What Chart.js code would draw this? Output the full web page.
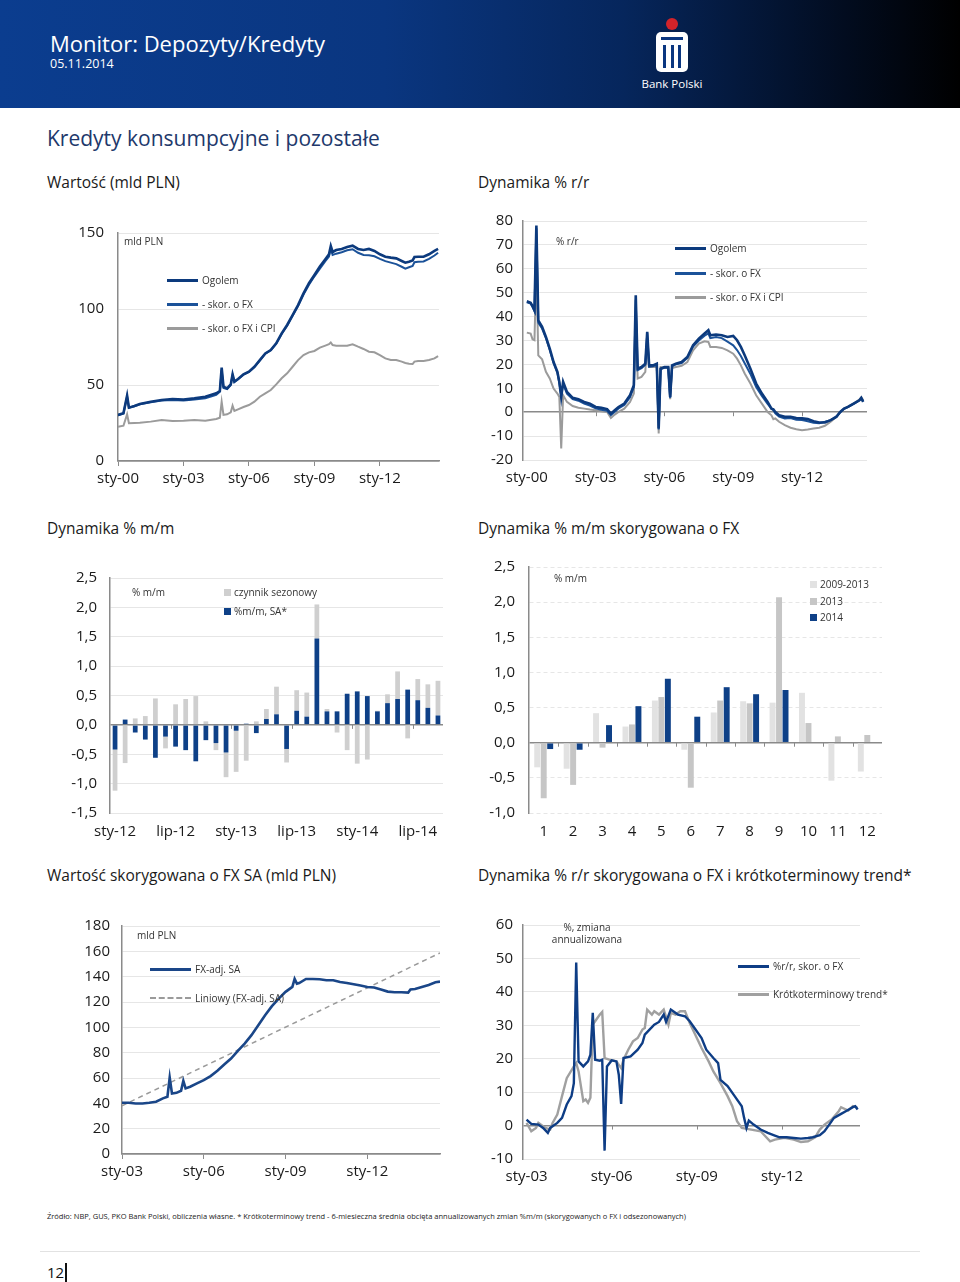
<!DOCTYPE html>
<html lang="pl">
<head>
<meta charset="utf-8">
<title>Kredyty konsumpcyjne i pozostałe</title>
<script src="https://cdn.jsdelivr.net/npm/chart.js@4.4.1/dist/chart.umd.min.js"></script>
<style>
  html, body { margin: 0; padding: 0; background: #fff; }
  body { width: 960px; height: 1282px; position: relative; overflow: hidden; font-family: "Open Sans", sans-serif; color: #1a1a1a; }
  .abs { position: absolute; }
  .hdr { left: 0; top: 0; width: 960px; height: 108px; background: linear-gradient(90deg, #0b3d8f 0%, #0a3680 40%, #06265c 65%, #020c1f 88%, #000 100%); }
  .hdr-title { left: 50px; top: 28px; font-size: 22px; color: #fff; }
  .hdr-date { left: 50px; top: 55px; font-size: 12.5px; color: #fff; }
  .bank { left: 632px; top: 76px; width: 80px; text-align: center; font-size: 11.5px; color: #fff; }
  .section { left: 47px; top: 124px; font-size: 21px; color: #21386b; }
  .sub { font-size: 15.5px; color: #1a1a1a; white-space: nowrap; }
  .note { font-size: 10px; color: #333; white-space: nowrap; }
  .lg { position: absolute; font-size: 10px; line-height: 12px; display: flex; align-items: center; white-space: nowrap; color: #333; }
  .lg i { display: inline-block; width: 31px; margin-right: 4px; }
  .lg b { display: inline-block; width: 7px; height: 7px; margin-right: 3px; }
  canvas { position: absolute; }
  .foot { left: 47px; top: 1211px; font-size: 7.5px; color: #222; white-space: nowrap; }
  .rule { left: 40px; top: 1251px; width: 880px; height: 1px; background: #e2e2e2; }
  .page { left: 47px; top: 1262px; font-size: 15px; color: #111; }
  .bar { left: 65px; top: 1263px; width: 2px; height: 19px; background: #111; }
</style>
</head>
<body>
<div class="abs hdr"></div>
<div class="abs hdr-title">Monitor: Depozyty/Kredyty</div>
<div class="abs hdr-date">05.11.2014</div>
<svg class="abs" style="left:650px;top:14px" width="44" height="60" viewBox="0 0 44 60">
  <circle cx="22" cy="10" r="6" fill="#d2232a"/>
  <rect x="6" y="18" width="32" height="40" rx="5" fill="#fff"/>
  <rect x="11" y="23" width="22" height="3" fill="#0a3680"/>
  <rect x="13" y="31" width="3" height="23" fill="#0a3680"/>
  <rect x="21" y="31" width="3" height="23" fill="#0a3680"/>
  <rect x="28" y="31" width="3" height="23" fill="#0a3680"/>
</svg>
<div class="abs bank">Bank Polski</div>

<div class="abs section">Kredyty konsumpcyjne i pozostałe</div>

<div class="abs sub" style="left:47px;top:171px">Wartość (mld PLN)</div>
<div class="abs sub" style="left:478px;top:171px">Dynamika % r/r</div>
<div class="abs sub" style="left:47px;top:517px">Dynamika % m/m</div>
<div class="abs sub" style="left:478px;top:517px">Dynamika % m/m skorygowana o FX</div>
<div class="abs sub" style="left:47px;top:864px">Wartość skorygowana o FX SA (mld PLN)</div>
<div class="abs sub" style="left:478px;top:864px">Dynamika % r/r skorygowana o FX i krótkoterminowy trend*</div>

<canvas id="c1"></canvas>
<canvas id="c2"></canvas>
<canvas id="c3"></canvas>
<canvas id="c4"></canvas>
<canvas id="c5"></canvas>
<canvas id="c6"></canvas>

<!-- in-chart notes and legends -->
<div class="abs note" style="left:124px;top:234px">mld PLN</div>
<div class="lg" style="left:167px;top:274px"><i style="height:3px;background:#0c3a7d"></i>Ogolem</div>
<div class="lg" style="left:167px;top:298px"><i style="height:3px;background:#1b5299"></i>- skor. o FX</div>
<div class="lg" style="left:167px;top:322px"><i style="height:3px;background:#9b9b9b"></i>- skor. o FX i CPI</div>

<div class="abs note" style="left:556px;top:234px">% r/r</div>
<div class="lg" style="left:675px;top:242px"><i style="height:3px;background:#0c3a7d"></i>Ogolem</div>
<div class="lg" style="left:675px;top:267px"><i style="height:3px;background:#1b5299"></i>- skor. o FX</div>
<div class="lg" style="left:675px;top:291px"><i style="height:3px;background:#9b9b9b"></i>- skor. o FX i CPI</div>

<div class="abs note" style="left:132px;top:585px">% m/m</div>
<div class="lg" style="left:224px;top:586px"><b style="background:#cfcfcf"></b>czynnik sezonowy</div>
<div class="lg" style="left:224px;top:605px"><b style="background:#0e4087"></b>%m/m, SA*</div>

<div class="abs note" style="left:554px;top:571px">% m/m</div>
<div class="lg" style="left:810px;top:578px"><b style="background:#e2e2e2"></b>2009-2013</div>
<div class="lg" style="left:810px;top:595px"><b style="background:#c6c6c6"></b>2013</div>
<div class="lg" style="left:810px;top:611px"><b style="background:#0e4087"></b>2014</div>

<div class="abs note" style="left:137px;top:928px">mld PLN</div>
<div class="lg" style="left:150px;top:963px"><i style="width:41px;height:3px;background:#1a4688"></i>FX-adj. SA</div>
<div class="lg" style="left:150px;top:992px"><i style="width:41px;height:0;border-top:2px dashed #9a9a9a"></i>Liniowy (FX-adj. SA)</div>

<div class="abs note" style="left:537px;top:921px;width:100px;text-align:center;line-height:12px">%, zmiana<br>annualizowana</div>
<div class="lg" style="left:738px;top:960px"><i style="height:3px;background:#0e3d85"></i>%r/r, skor. o FX</div>
<div class="lg" style="left:738px;top:988px"><i style="height:3px;background:#a0a0a0"></i>Krótkoterminowy trend*</div>

<div class="abs foot">Źródło: NBP, GUS, PKO Bank Polski, obliczenia własne. * Krótkoterminowy trend - 6-miesieczna średnia obcięta annualizowanych zmian %m/m (skorygowanych o FX i odsezonowanych)</div>
<div class="abs rule"></div>
<div class="abs page">12</div>
<div class="abs bar"></div>

<script>
// ---- Wartość (mld PLN), months counted from sty-00 ----
const valMonths = [0,3,5,6,9,12,18,24,30,36,42,48,54,56,57,58,60,62,63,64,66,69,72,75,78,81,84,87,90,93,96,99,102,105,108,111,114,116,117,118,120,123,126,129,132,135,138,141,144,147,150,153,156,158,160,162,163,165,168,171,174,176];
const valTotal = [30.3,31.4,43,35.1,36.2,37.5,39,40.1,40.8,40.4,41.2,42.3,44.5,46,61.4,48.9,47.8,50.4,57,52.2,54,57,58.8,62,66.4,70.8,73,77.4,84,89.5,96,102.6,110.3,117,122.4,127.9,132.7,136,141.4,137.5,138.8,139.5,140.8,141.7,139.5,138.8,139.5,138.2,136,134.4,133.8,133.3,131.6,130.5,131.1,132,134.2,134.4,134.4,136,138.2,139.5];
const valFx = [30,31.2,42.5,35,36,37.3,38.7,39.8,40.2,39.8,40.5,41.2,43.5,45.5,60,48,47.3,50,56.5,52,53.8,56.8,58.6,61.8,66.2,70.6,72.8,77.2,83.6,89,95.5,102,109.5,116,121.5,126.5,131.5,134.5,140,135.5,136.4,137.3,138.6,139.3,137,135.5,135.3,134.7,133,131.5,130.5,129.5,127.8,126.6,127.5,128.4,130.8,131.1,131.3,133,135.2,137];
const valCpi = [22.6,23.2,30.7,24.8,25,25.2,25.9,27,26.3,26.5,27,26.5,27.6,28.5,39,30.3,30.7,32,36.4,32.9,34,35.5,36.8,39,42.3,44.5,46.7,50.4,54.4,57.7,62,66.4,69.7,71.5,72.4,74.6,75.9,76.8,78,76.3,75.9,75.8,75.9,76.8,75.2,73.7,71.9,71.5,69.7,67.5,66.4,66.4,65.4,64.5,64,63.8,65.4,65.8,65.8,66.4,67.5,69];

// ---- Dynamika % r/r ----
const yoyMonths = [0,2,3,4,5,6,8,10,12,14,16,17,18,19,21,24,27,30,33,36,39,42,44,46,48,51,54,56,57,58,60,62,63,64,66,68,69,70,72,74,75,76,78,81,84,87,90,93,95,96,99,102,105,108,110,112,114,117,120,123,126,128,129,130,132,135,138,141,144,147,150,153,156,159,162,164,166,168,171,174,175,176];
const yoyTotal = [46.4,45.8,44.4,42.6,78.1,38.4,35.7,31.5,26.6,21,16.9,12.7,6.4,12.7,8.5,6,5.4,4.3,3.6,2.2,1.8,1.3,-0.6,0.8,2.2,3.6,7.1,11.3,48.9,18.2,18.9,20.3,33.6,19.6,19.6,20.3,-6.8,18.2,18.9,18.9,6.4,19.6,20.3,21,23.1,28,30.8,32.9,34.3,32.2,32.5,32.2,31.5,31.9,30.1,27.3,23.8,18.2,12,7.8,4.3,1.5,1.2,0.1,-1.3,-1.9,-1.9,-2.4,-2.6,-2.9,-3.8,-4.3,-4.3,-3.3,-1.9,0.1,1.5,2.2,3.6,5,6,4.3];
const yoyFx = [46,45.5,44,42.3,77,37.5,35,31,26,20.5,16.5,12.2,7,11.8,7.8,5.5,4.8,3.6,2.8,1.6,1,0.6,-1.2,0.2,1.6,3,6.2,10.5,47,17.6,18.4,19.8,33,19,19.2,19.8,-7.2,18,18.6,18.6,6,19.2,20,20.6,22.7,27.5,30,32,33,31,31.5,31,29.5,28,26,23.5,20.5,16,10.5,6.8,3.5,1.5,0.8,-0.5,-1.8,-2.6,-2.4,-3.2,-3.3,-3.8,-4.4,-4.6,-4,-3.3,-2,0,1.4,2.1,3.5,4.9,5.8,4.5];
const yoyCpi = [33.3,32.9,30.5,30.1,61.4,23.8,22.1,16.9,14.1,9.9,7.8,6.4,-15.2,7.1,4.3,2.6,1.9,1.5,1.1,0.8,0.4,0.1,-2.4,-1,0.1,1.5,4.3,7.8,42.6,14.1,14.8,16.9,30.1,18.9,18.9,18.9,-8.9,18.9,18.5,18.5,5.4,18.5,18.9,19.4,21,25.9,28.7,29.7,29.4,27.3,27.3,26.9,25.9,24.5,22.4,19.6,16.2,12,7.1,3.6,0.1,-1.3,-2.9,-2.6,-4,-5.4,-6.5,-7.1,-7.5,-7.2,-6.8,-6.5,-5.7,-4,-1.9,0.1,1.5,2.2,3.6,5.3,6.3,5];

const topTickMonths = [0, 36, 72, 108, 144];
const topTickLabels = ['sty-00', 'sty-03', 'sty-06', 'sty-09', 'sty-12'];

// ---- Dynamika % m/m ----
const mmCategories = ['sty-12','lut-12','mar-12','kwi-12','maj-12','cze-12','lip-12','sie-12','wrz-12','paź-12','lis-12','gru-12',
  'sty-13','lut-13','mar-13','kwi-13','maj-13','cze-13','lip-13','sie-13','wrz-13','paź-13','lis-13','gru-13',
  'sty-14','lut-14','mar-14','kwi-14','maj-14','cze-14','lip-14','sie-14','wrz-14'];
const mmSA = [-0.42,0.09,-0.13,-0.25,-0.56,-0.20,-0.37,-0.43,-0.62,-0.26,-0.31,-0.47,-0.10,0.02,-0.14,0.10,0.18,-0.41,0.24,0.14,1.47,0.23,0.23,0.53,0.57,0.49,0.23,0.37,0.44,0.60,0.42,0.29,0.16];
const mmSeasonal = [-0.70,-0.65,0.11,0.15,0.45,-0.20,0.35,0.44,0.49,0.06,-0.12,-0.42,-0.70,-0.61,0.06,0.17,0.47,-0.23,0.35,0.41,0.58,0.04,-0.13,-0.43,-0.66,-0.59,0.01,0.15,0.47,-0.23,0.36,0.40,0.59];

// ---- Dynamika % m/m skorygowana o FX ----
const monthNums = ['1','2','3','4','5','6','7','8','9','10','11','12'];
const mm0913 = [-0.35,-0.37,0.42,0.23,0.60,-0.10,0.43,0.59,0.57,0.71,-0.54,-0.41];
const mm2013 = [-0.79,-0.60,-0.07,0.26,0.65,-0.64,0.60,0.56,2.07,0.28,0.09,0.11];
const mm2014 = [-0.09,-0.10,0.25,0.52,0.91,0.37,0.79,0.69,0.75,null,null,null];

// ---- Wartość skorygowana o FX SA, months counted from sty-03 ----
const saMonths = [0,3,6,9,12,15,18,20,21,22,24,26,27,28,30,33,36,39,42,45,48,51,54,57,60,63,66,69,72,75,76,77,78,81,84,87,90,93,96,99,102,105,108,111,114,117,120,123,126,127,129,132,135,138,140];
const saValues = [40.5,40.5,39.9,39.9,40.5,41.3,43.9,45.2,60.4,47.8,48.3,49.9,57.8,51.8,53.1,55.7,58.3,61.5,65.7,70.7,75.4,81.5,87.2,93.8,101.7,109.6,116.7,122.7,128,131.9,138.2,134.5,135,138.2,138.2,137.9,137.2,137.2,135.8,135,134,133,131.9,131.4,129.8,128.2,127.7,127.7,127.4,129.8,130.3,131.9,133.5,135.6,136.1];
const saTrendMonths = [0, 140];
const saTrendValues = [38.1, 158.7];

// ---- Dynamika % r/r skor. o FX i trend ----
const fxYoyMonths = [0,2,5,7,9,10,13,15,17,19,20,21,22,24,26,27,28,29,31,32,33,34,36,38,39,40,41,44,47,49,50,52,54,56,58,59,61,64,67,69,71,74,76,79,81,82,85,88,91,92,93,94,96,99,102,105,107,110,113,116,119,121,124,126,128,130,133,135,138,139,140];
const fxYoyValues = [1.8,0.5,0.3,-0.7,-2.2,-0.7,0.8,2.3,6.3,8.8,12.7,48.8,19.2,17.7,19.2,21.2,33.7,19.7,19.4,19.7,-7.5,17.7,19.5,19.2,15.2,6.5,20.2,20.7,22.7,24.7,27.2,28.7,30.2,31,33.2,31,34.7,33.2,32.7,31.2,29.2,26.2,22.7,20.2,18.7,13.7,11.8,8.8,5.8,2.3,-0.7,1.5,0.3,-1.2,-2.2,-3,-3.5,-3.5,-3.7,-3.9,-3.7,-3.5,-2.9,-1.7,0.3,2.3,3.5,4.3,5.5,5.8,4.8];
const trendMonths = [0,2,4,5,8,10,11,13,15,17,20,21,22,24,25,26,27,28,29,31,32,33,35,38,40,41,43,45,47,49,50,51,53,54,56,58,60,61,63,65,67,69,71,74,77,79,82,85,87,89,91,95,99,103,105,109,113,116,119,122,124,126,129,132,133,136,138,140];
const trendValues = [0.8,-1.7,-0.7,0.8,-0.7,-1.2,0.8,3.3,8.8,14.2,17.7,18.7,16.2,7.3,7.8,6.8,8.3,30.2,31.2,33.2,34,20.2,19.7,19.2,17.2,19.7,22.7,25.2,26.2,28.7,29.2,34.7,33.2,34.2,33.2,34.7,30.2,33.7,33.2,34.2,34.2,30.7,27.7,23.2,19.2,16.2,12.7,8.8,5.8,1.3,-0.7,-1.2,-1.7,-4.7,-4.2,-3.7,-4.2,-4.9,-4.7,-3.5,-1.2,0.3,1.8,4.3,5.5,4.5,5.8,5.3];

const botTickMonths = [0, 36, 72, 108];
const botTickLabels = ['sty-03', 'sty-06', 'sty-09', 'sty-12'];

// ---------------------------------------------------------------------
Chart.defaults.font.family = '"Open Sans", sans-serif';
Chart.defaults.font.size = 15;
Chart.defaults.color = '#1a1a1a';
Chart.defaults.animation = false;
Chart.defaults.plugins.legend.display = false;
Chart.defaults.plugins.tooltip.enabled = false;

const AXIS = '#8a8a8a', GRID = '#e6e6e6';
// PAD_T must exceed half a label + tick padding, otherwise Chart.js pushes the plot down
const PAD_L = 64, PAD_T = 30, PAD_R = 14, PAD_B = 36;

// small tick marks hanging from the zero line
Chart.register({
  id: 'zeroMarks',
  afterDatasetsDraw(chart, args, opts) {
    if (!opts.at) return;
    const { ctx, scales: { x, y } } = chart;
    const y0 = y.getPixelForValue(0);
    ctx.save();
    ctx.strokeStyle = AXIS;
    ctx.lineWidth = 1;
    opts.at.forEach(v => {
      const px = Math.round(x.getPixelForValue(v)) + 0.5;
      ctx.beginPath(); ctx.moveTo(px, y0); ctx.lineTo(px, y0 + 4); ctx.stroke();
    });
    ctx.restore();
  }
});

function mount(id, box) {
  const cv = document.getElementById(id);
  cv.width = box.r - box.l + PAD_L + PAD_R;
  cv.height = box.b - box.t + PAD_T + PAD_B;
  cv.style.width = cv.width + 'px';
  cv.style.height = cv.height + 'px';
  cv.style.left = (box.l - PAD_L) + 'px';
  cv.style.top = (box.t - PAD_T) + 'px';
  return cv;
}

const comma = v => v.toFixed(1).replace('.', ',');

function yAxis(min, max, step, gap, fmt, dashed) {
  return {
    min, max,
    ticks: { stepSize: step, padding: gap, callback: fmt },
    grid: { drawTicks: false, color: c => (c.tick && c.tick.value === 0 ? AXIS : GRID), lineWidth: c => (c.tick && c.tick.value === 0 ? 1.5 : 1) },
    border: { color: AXIS, width: 1.5, dash: c => (dashed && c.tick && c.tick.value !== 0 ? [4, 3] : []) },
    afterFit: s => { s.width = PAD_L; }
  };
}

function monthAxis(min, max, tickMonths, tickLabels, marks) {
  return {
    type: 'linear', min, max,
    afterBuildTicks: s => { s.ticks = tickMonths.map(v => ({ value: v })); },
    ticks: { autoSkip: false, maxRotation: 0, padding: marks ? 4 : 9, callback: (v, i) => tickLabels[i] },
    grid: { display: marks, drawOnChartArea: false, drawTicks: marks, tickLength: 5, color: AXIS },
    border: { display: marks, color: AXIS, width: 1.5 },
    afterFit: s => { s.height = PAD_B; }
  };
}

function catAxis(labels, every) {
  return {
    ticks: { autoSkip: false, maxRotation: 0, padding: 10, callback: (v, i) => (i % every === 0 ? labels[i] : '') },
    grid: { display: false, drawTicks: false },
    border: { display: false },
    afterFit: s => { s.height = PAD_B; }
  };
}

const pts = (xs, ys) => xs.map((x, i) => ({ x, y: ys[i] }));
const lineDs = (data, color, width, extra) => Object.assign({ data, borderColor: color, borderWidth: width, pointRadius: 0, tension: 0, fill: false }, extra || {});
const basePlugins = at => ({ zeroMarks: { at } });
const pad = { top: PAD_T, right: PAD_R, left: 0, bottom: 0 };

// 1. Wartość (mld PLN)
new Chart(mount('c1', { l: 118, t: 233, r: 439, b: 461 }), {
  type: 'line',
  data: { datasets: [
    lineDs(pts(valMonths, valTotal), '#0c3a7d', 2.6),
    lineDs(pts(valMonths, valFx), '#1b5299', 2),
    lineDs(pts(valMonths, valCpi), '#9b9b9b', 2)
  ] },
  options: {
    responsive: false, layout: { padding: pad },
    scales: { x: monthAxis(0, 176.5, topTickMonths, topTickLabels, true), y: yAxis(0, 150, 50, 14, v => v) },
    plugins: basePlugins(null)
  }
});

// 2. Dynamika % r/r
new Chart(mount('c2', { l: 523, t: 221, r: 867, b: 460 }), {
  type: 'line',
  data: { datasets: [
    lineDs(pts(yoyMonths, yoyTotal), '#0c3a7d', 2.6),
    lineDs(pts(yoyMonths, yoyFx), '#1b5299', 2),
    lineDs(pts(yoyMonths, yoyCpi), '#9b9b9b', 2)
  ] },
  options: {
    responsive: false, layout: { padding: pad },
    scales: { x: monthAxis(-2, 178, topTickMonths, topTickLabels, false), y: yAxis(-20, 80, 10, 10, v => v) },
    plugins: basePlugins(topTickMonths.slice(1))
  }
});

// 3. Dynamika % m/m (stacked: SA + seasonal factor)
new Chart(mount('c3', { l: 110, t: 578, r: 443, b: 813 }), {
  type: 'bar',
  data: { labels: mmCategories, datasets: [
    { label: '%m/m, SA*', data: mmSA, backgroundColor: '#0e4087', stack: 's' },
    { label: 'czynnik sezonowy', data: mmSeasonal, backgroundColor: '#cfcfcf', stack: 's' }
  ] },
  options: {
    responsive: false, layout: { padding: pad },
    datasets: { bar: { barPercentage: 0.47, categoryPercentage: 1 } },
    scales: { x: Object.assign(catAxis(mmCategories, 6), { stacked: true }), y: Object.assign(yAxis(-1.5, 2.5, 0.5, 13, comma), { stacked: true }) },
    plugins: basePlugins([5.5, 11.5, 17.5, 23.5, 29.5])
  }
});

// 4. Dynamika % m/m skorygowana o FX
new Chart(mount('c4', { l: 529, t: 567, r: 882, b: 813 }), {
  type: 'bar',
  data: { labels: monthNums, datasets: [
    { label: '2009-2013', data: mm0913, backgroundColor: '#e2e2e2' },
    { label: '2013', data: mm2013, backgroundColor: '#c6c6c6' },
    { label: '2014', data: mm2014, backgroundColor: '#0e4087' }
  ] },
  options: {
    responsive: false, layout: { padding: pad },
    datasets: { bar: { barPercentage: 0.92, categoryPercentage: 0.66 } },
    scales: { x: catAxis(monthNums, 1), y: yAxis(-1, 2.5, 0.5, 14, comma, true) },
    plugins: basePlugins(monthNums.slice(1).map((m, i) => i + 0.5))
  }
});

// 5. Wartość skorygowana o FX SA
new Chart(mount('c5', { l: 122, t: 926, r: 440, b: 1154 }), {
  type: 'line',
  data: { datasets: [
    lineDs(pts(saMonths, saValues), '#1a4688', 2.6),
    lineDs(pts(saTrendMonths, saTrendValues), '#9a9a9a', 1.5, { borderDash: [5, 4] })
  ] },
  options: {
    responsive: false, layout: { padding: pad },
    scales: { x: monthAxis(0, 140, botTickMonths, botTickLabels, true), y: yAxis(0, 180, 20, 12, v => v) },
    plugins: basePlugins(null)
  }
});

// 6. Dynamika % r/r skorygowana o FX i krótkoterminowy trend
new Chart(mount('c6', { l: 523, t: 925, r: 860, b: 1159 }), {
  type: 'line',
  data: { datasets: [
    lineDs(pts(fxYoyMonths, fxYoyValues), '#0e3d85', 2.4),
    lineDs(pts(trendMonths, trendValues), '#a0a0a0', 2.4)
  ] },
  options: {
    responsive: false, layout: { padding: pad },
    scales: { x: monthAxis(-1.5, 141, botTickMonths, botTickLabels, false), y: yAxis(-10, 60, 10, 10, v => v) },
    plugins: basePlugins(botTickMonths.slice(1))
  }
});
</script>
</body>
</html>
